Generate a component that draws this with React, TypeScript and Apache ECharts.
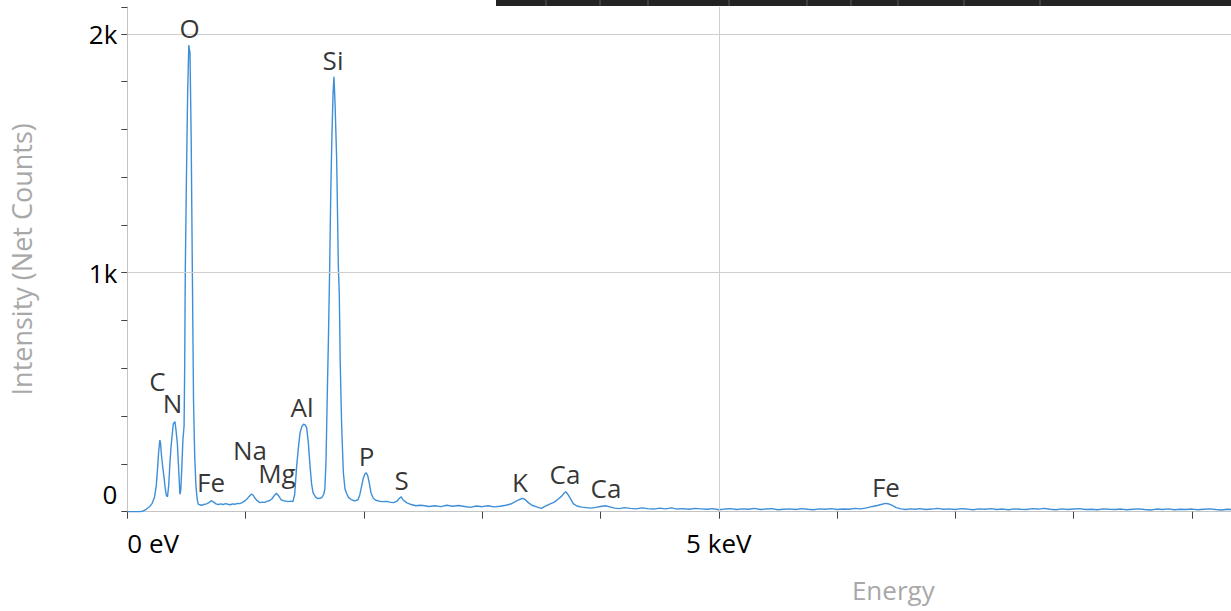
import React, { useEffect, useRef } from "react";
import * as echarts from "echarts";

// EDS spectrum, [energy keV, net counts]
const spectrumLow: [number, number][] = [
  [0, 0], [0.05, 0], [0.1, 0], [0.13, 2], [0.16, 10], [0.19, 22], [0.21, 35],
  [0.23, 60], [0.245, 110], [0.255, 175], [0.265, 250], [0.275, 300], [0.28, 290],
  [0.29, 230], [0.3, 185], [0.31, 146], [0.32, 100], [0.33, 68], [0.34, 63],
  [0.35, 110], [0.36, 200], [0.368, 260], [0.375, 300], [0.389, 368], [0.403, 377],
  [0.412, 340], [0.423, 287], [0.433, 190], [0.44, 119], [0.445, 73], [0.452, 90],
  [0.46, 174], [0.47, 300], [0.48, 360], [0.485, 600], [0.49, 1000], [0.5, 1400],
  [0.51, 1750], [0.52, 1953], [0.53, 1920], [0.54, 1560], [0.55, 1000], [0.56, 460],
  [0.57, 230], [0.58, 110], [0.59, 55], [0.6, 32],
];

const spectrumMid: [number, number][] = [
  [0.61, 29], [0.63, 27], [0.65, 31], [0.67, 33], [0.69, 38], [0.71, 46], [0.73, 40],
  [0.75, 33], [0.77, 30], [0.79, 33], [0.81, 30], [0.83, 34], [0.85, 31], [0.87, 29],
  [0.89, 33], [0.91, 31], [0.93, 35], [0.95, 34], [0.97, 38], [0.99, 44], [1.01, 52],
  [1.03, 64], [1.05, 74], [1.065, 68], [1.08, 56], [1.1, 45], [1.12, 38], [1.14, 40],
  [1.16, 39], [1.18, 43], [1.2, 46], [1.22, 52], [1.24, 66], [1.26, 77], [1.28, 66],
  [1.3, 50], [1.32, 46], [1.34, 44], [1.36, 42], [1.38, 44], [1.4, 42], [1.415, 72],
  [1.43, 180], [1.445, 262], [1.46, 330], [1.474, 355], [1.49, 366], [1.505, 362],
  [1.516, 352], [1.53, 290], [1.544, 195], [1.558, 115], [1.57, 80], [1.59, 62],
  [1.61, 55], [1.63, 56], [1.645, 60], [1.66, 72], [1.67, 95], [1.68, 216], [1.69, 480],
  [1.7, 720], [1.71, 1000], [1.72, 1340], [1.73, 1580], [1.74, 1760], [1.747, 1820],
  [1.756, 1710], [1.77, 1470], [1.784, 1025], [1.792, 910], [1.8, 620], [1.812, 360],
  [1.826, 165], [1.84, 95], [1.855, 75], [1.87, 60], [1.89, 52], [1.91, 47], [1.93, 46],
  [1.95, 50], [1.965, 70], [1.98, 105], [1.995, 140], [2.008, 158], [2.02, 163],
  [2.033, 150], [2.046, 119], [2.06, 78], [2.08, 56], [2.1, 48], [2.13, 44], [2.16, 42],
  [2.19, 43], [2.22, 40], [2.25, 38], [2.28, 44], [2.3, 56], [2.315, 62], [2.33, 50],
  [2.36, 38], [2.4, 30], [2.44, 25], [2.47, 27],
];

const spectrumHigh: [number, number][] = [
  [2.5, 26], [2.55, 22], [2.6, 25], [2.65, 21], [2.7, 27], [2.75, 23], [2.8, 26],
  [2.85, 22], [2.9, 18], [2.95, 24], [3.0, 21], [3.05, 25], [3.1, 20], [3.15, 23],
  [3.2, 27], [3.24, 32], [3.28, 42], [3.31, 50], [3.34, 56], [3.36, 52], [3.39, 38],
  [3.42, 27], [3.46, 20], [3.5, 14], [3.53, 22], [3.57, 32], [3.61, 40], [3.64, 52],
  [3.67, 64], [3.69, 76], [3.705, 84], [3.72, 76], [3.74, 60], [3.77, 34], [3.8, 24],
  [3.84, 19], [3.88, 17], [3.92, 15], [3.96, 18], [4.0, 22], [4.04, 25], [4.08, 20],
  [4.12, 15], [4.16, 13], [4.2, 17], [4.25, 14], [4.3, 12], [4.35, 16], [4.4, 13],
  [4.45, 11], [4.5, 15], [4.55, 12], [4.6, 16], [4.65, 11], [4.7, 13], [4.75, 10],
  [4.8, 14], [4.85, 12], [4.9, 10], [4.95, 13], [5.0, 8], [5.05, 11], [5.1, 13],
  [5.15, 9], [5.2, 12], [5.25, 10], [5.3, 14], [5.35, 9], [5.4, 11], [5.45, 13],
  [5.5, 8], [5.55, 10], [5.6, 12], [5.65, 9], [5.7, 13], [5.75, 10], [5.8, 8],
  [5.85, 12], [5.9, 10], [5.95, 13], [6.0, 9], [6.05, 11], [6.1, 10], [6.15, 14],
  [6.2, 12], [6.25, 16], [6.3, 22], [6.34, 26], [6.38, 31], [6.41, 35], [6.44, 32],
  [6.47, 25], [6.5, 17], [6.54, 12], [6.58, 9], [6.62, 12], [6.66, 10], [6.7, 13],
  [6.75, 9], [6.8, 11], [6.85, 14], [6.9, 10], [6.95, 12], [7.0, 9], [7.05, 13],
  [7.1, 11], [7.15, 8], [7.2, 12], [7.25, 10], [7.3, 13], [7.35, 9], [7.4, 11],
  [7.45, 8], [7.5, 12], [7.55, 10], [7.6, 9], [7.65, 13], [7.7, 11], [7.75, 14],
  [7.8, 10], [7.85, 8], [7.9, 12], [7.95, 9], [8.0, 11], [8.05, 13], [8.1, 9],
  [8.15, 10], [8.2, 8], [8.25, 12], [8.3, 10], [8.35, 9], [8.4, 11], [8.45, 8],
  [8.5, 10], [8.55, 12], [8.6, 9], [8.65, 7], [8.7, 11], [8.75, 9], [8.8, 12],
  [8.85, 8], [8.9, 10], [8.95, 9], [9.0, 11], [9.05, 8], [9.1, 10], [9.15, 12],
  [9.2, 9], [9.25, 7], [9.3, 10], [9.35, 9],
];

// Peak identification labels: element, label energy (keV), label height (counts)
const elementNames = ["C", "N", "O", "Fe", "Na", "Mg", "Al", "Si", "P", "S", "K", "Ca", "Ca", "Fe"];
const elementEnergies = [0.255, 0.382, 0.526, 0.708, 1.037, 1.265, 1.477, 1.739, 2.022, 2.318, 3.32, 3.7, 4.046, 6.413];
const elementLabelCounts = [547, 455, 2026, 124, 258, 160, 438, 1889, 231, 133, 124, 158, 101, 103];

// Labelled energy ticks (keV) and grid lines
const energyTickLabels: Record<number, string> = { 0: "0 eV", 5: "5 keV" };
const gridCounts = [1000, 2000];
const gridEnergies = [5];

// Toolbar separators along the top strip
const toolbarSeparators = [546, 600, 648, 729, 807, 851, 898, 964, 1040];

const FONT = "'Open Sans', 'Noto Sans', sans-serif";

export default function App() {
  const ref = useRef<HTMLDivElement>(null);

  useEffect(() => {
    if (!ref.current) return;
    const chart = echarts.init(ref.current, undefined, { renderer: "svg" });
    const spectrum = [...spectrumLow, ...spectrumMid, ...spectrumHigh];

    chart.setOption({
      animation: false,
      backgroundColor: "#ffffff",
      textStyle: { fontFamily: FONT },
      grid: { left: 127.3, right: 20.7, top: 7, bottom: 99.3, containLabel: false },
      xAxis: {
        type: "value",
        min: 0,
        max: 12.95,
        interval: 1,
        name: "Energy",
        nameLocation: "middle",
        nameGap: 65,
        nameTextStyle: { color: "#a8a8a8", fontSize: 26, fontFamily: FONT },
        axisLine: { show: true, onZero: false, lineStyle: { color: "#c4c4c4", width: 1 } },
        axisTick: { show: true, length: 7, lineStyle: { color: "#444444", width: 1 } },
        axisLabel: {
          color: "#000000",
          fontSize: 26,
          fontFamily: FONT,
          margin: 18,
          alignMinLabel: "left",
          formatter: (v: number) => energyTickLabels[v] ?? "",
        },
        splitLine: { show: false },
      },
      yAxis: {
        type: "value",
        min: 0,
        max: 2112,
        interval: 200,
        name: "Intensity (Net Counts)",
        nameLocation: "middle",
        nameRotate: 90,
        nameGap: 92,
        nameTextStyle: { color: "#a8a8a8", fontSize: 27, fontFamily: FONT },
        axisLine: { show: true, lineStyle: { color: "#c4c4c4", width: 1 } },
        axisTick: { show: true, length: 6, lineStyle: { color: "#444444", width: 1 } },
        axisLabel: {
          color: "#000000",
          fontSize: 26,
          fontFamily: FONT,
          margin: 10,
          formatter: (v: number) =>
            v === 0 ? "{zero|0}" : v % 1000 === 0 ? `${v / 1000}k` : "",
          rich: {
            zero: { fontSize: 26, color: "#000000", fontFamily: FONT, padding: [0, 0, 36, 0] },
          },
        },
        splitLine: { show: false },
      },
      series: [
        {
          name: "Spectrum",
          type: "line",
          data: spectrum,
          showSymbol: false,
          symbol: "none",
          lineStyle: { color: "#3f8fd8", width: 1.4 },
          z: 3,
          markLine: {
            silent: true,
            symbol: "none",
            label: { show: false },
            lineStyle: { color: "#cfcfcf", width: 1, type: "solid" },
            data: [
              ...gridCounts.map((c) => ({ yAxis: c })),
              ...gridEnergies.map((e) => ({ xAxis: e })),
            ],
          },
        },
        {
          name: "Elements",
          type: "scatter",
          data: elementEnergies.map((e, i) => [e, elementLabelCounts[i]]),
          symbolSize: 1,
          itemStyle: { color: "rgba(0,0,0,0)" },
          silent: true,
          z: 5,
          label: {
            show: true,
            position: "inside",
            color: "#000000",
            fontSize: 26,
            fontFamily: FONT,
            formatter: (p: any) => elementNames[p.dataIndex],
          },
        },
      ],
      graphic: [
        {
          type: "rect",
          shape: { x: 496, y: 0, width: 1184, height: 6 },
          style: { fill: "#232323" },
          silent: true,
        },
        ...toolbarSeparators.map((x) => ({
          type: "line",
          shape: { x1: x, y1: 0, x2: x, y2: 6 },
          style: { stroke: "#5a5a5a", lineWidth: 1 },
          silent: true,
        })),
      ],
    });

    return () => chart.dispose();
  }, []);

  return (
    <div
      style={{
        position: "fixed",
        left: 0,
        top: 0,
        width: 1231,
        height: 611,
        overflow: "hidden",
        background: "#ffffff",
      }}
    >
      <div ref={ref} style={{ width: 1680, height: 611 }} />
    </div>
  );
}
